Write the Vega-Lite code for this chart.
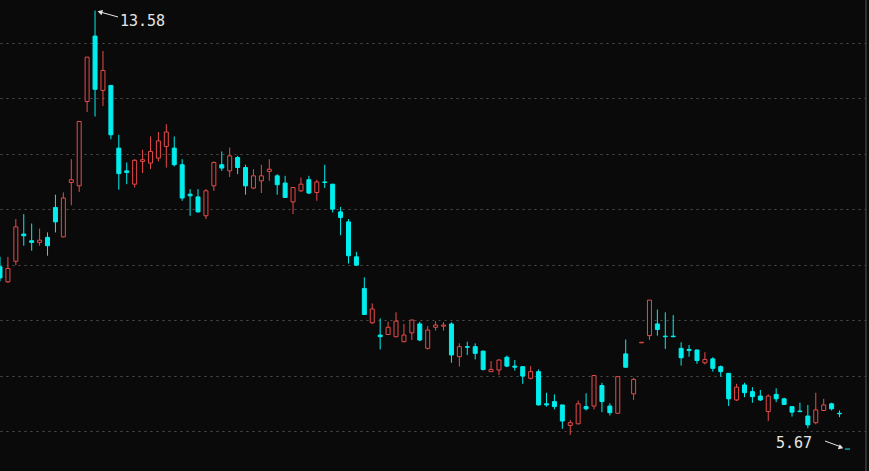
{
  "$schema": "https://vega.github.io/schema/vega-lite/v6.json",
  "width": 869,
  "height": 471,
  "padding": 0,
  "autosize": {"type": "none"},
  "background": "#0a0a0a",
  "config": {"view": {"stroke": null}, "axis": {"minExtent": 0, "maxExtent": 0, "tickSize": 0, "labelPadding": 0, "titlePadding": 0}},
  "datasets": {
    "k": [
      {"t":1,"o":8.96,"h":9.14,"l":8.70,"c":8.76},
      {"t":2,"o":8.69,"h":9.14,"l":8.67,"c":8.93},
      {"t":3,"o":9.06,"h":9.82,"l":8.99,"c":9.68},
      {"t":4,"o":9.55,"h":9.91,"l":9.34,"c":9.52},
      {"t":5,"o":9.43,"h":9.74,"l":9.25,"c":9.40},
      {"t":6,"o":9.40,"h":9.65,"l":9.34,"c":9.44},
      {"t":7,"o":9.49,"h":9.58,"l":9.16,"c":9.34},
      {"t":8,"o":10.03,"h":10.26,"l":9.58,"c":9.77},
      {"t":9,"o":9.50,"h":10.30,"l":9.49,"c":10.20},
      {"t":10,"o":10.48,"h":10.90,"l":10.07,"c":10.53},
      {"t":11,"o":10.42,"h":11.58,"l":10.31,"c":11.58},
      {"t":12,"o":11.94,"h":12.74,"l":11.75,"c":12.74},
      {"t":13,"o":13.12,"h":13.58,"l":11.67,"c":12.16},
      {"t":14,"o":12.14,"h":12.85,"l":11.86,"c":12.50},
      {"t":15,"o":12.23,"h":12.23,"l":11.26,"c":11.34},
      {"t":16,"o":11.10,"h":11.34,"l":10.35,"c":10.64},
      {"t":17,"o":10.69,"h":10.84,"l":10.45,"c":10.66},
      {"t":18,"o":10.45,"h":10.90,"l":10.39,"c":10.88},
      {"t":19,"o":10.86,"h":11.07,"l":10.65,"c":10.89},
      {"t":20,"o":10.83,"h":11.31,"l":10.72,"c":11.04},
      {"t":21,"o":10.92,"h":11.39,"l":10.86,"c":11.23},
      {"t":22,"o":11.13,"h":11.53,"l":10.75,"c":11.39},
      {"t":23,"o":11.10,"h":11.31,"l":10.77,"c":10.80},
      {"t":24,"o":10.80,"h":10.90,"l":10.15,"c":10.20},
      {"t":25,"o":10.27,"h":10.36,"l":9.88,"c":10.24},
      {"t":26,"o":10.22,"h":10.36,"l":9.94,"c":9.95},
      {"t":27,"o":9.88,"h":10.36,"l":9.82,"c":10.33},
      {"t":28,"o":10.42,"h":10.86,"l":10.33,"c":10.84},
      {"t":29,"o":10.80,"h":11.04,"l":10.69,"c":10.74},
      {"t":30,"o":10.69,"h":11.11,"l":10.58,"c":10.96},
      {"t":31,"o":10.93,"h":10.96,"l":10.63,"c":10.75},
      {"t":32,"o":10.75,"h":10.80,"l":10.26,"c":10.42},
      {"t":33,"o":10.38,"h":10.72,"l":10.36,"c":10.60},
      {"t":34,"o":10.51,"h":10.80,"l":10.29,"c":10.60},
      {"t":35,"o":10.68,"h":10.90,"l":10.51,"c":10.72},
      {"t":36,"o":10.60,"h":10.63,"l":10.26,"c":10.44},
      {"t":37,"o":10.47,"h":10.60,"l":10.20,"c":10.21},
      {"t":38,"o":10.13,"h":10.39,"l":9.91,"c":10.39},
      {"t":39,"o":10.33,"h":10.57,"l":10.31,"c":10.45},
      {"t":40,"o":10.53,"h":10.60,"l":10.27,"c":10.29},
      {"t":41,"o":10.30,"h":10.53,"l":10.15,"c":10.49},
      {"t":42,"o":10.49,"h":10.80,"l":10.38,"c":10.48},
      {"t":43,"o":10.45,"h":10.45,"l":9.94,"c":10.00},
      {"t":44,"o":9.95,"h":10.04,"l":9.53,"c":9.85},
      {"t":45,"o":9.77,"h":9.82,"l":9.02,"c":9.16},
      {"t":46,"o":9.14,"h":9.23,"l":8.98,"c":8.99},
      {"t":47,"o":8.57,"h":8.77,"l":8.10,"c":8.10},
      {"t":48,"o":7.95,"h":8.30,"l":7.93,"c":8.20},
      {"t":49,"o":7.73,"h":8.03,"l":7.47,"c":7.70},
      {"t":50,"o":7.74,"h":7.97,"l":7.73,"c":7.87},
      {"t":51,"o":7.70,"h":8.14,"l":7.69,"c":7.98},
      {"t":52,"o":7.61,"h":7.93,"l":7.60,"c":7.73},
      {"t":53,"o":7.77,"h":8.01,"l":7.64,"c":8.00},
      {"t":54,"o":7.93,"h":7.97,"l":7.62,"c":7.64},
      {"t":55,"o":7.49,"h":7.89,"l":7.47,"c":7.82},
      {"t":56,"o":7.87,"h":7.98,"l":7.81,"c":7.91},
      {"t":57,"o":7.89,"h":7.96,"l":7.81,"c":7.91},
      {"t":58,"o":7.93,"h":7.96,"l":7.23,"c":7.37},
      {"t":59,"o":7.34,"h":7.58,"l":7.16,"c":7.52},
      {"t":60,"o":7.52,"h":7.61,"l":7.37,"c":7.51},
      {"t":61,"o":7.52,"h":7.58,"l":7.29,"c":7.40},
      {"t":62,"o":7.44,"h":7.45,"l":7.09,"c":7.11},
      {"t":63,"o":7.07,"h":7.26,"l":7.07,"c":7.11},
      {"t":64,"o":7.10,"h":7.29,"l":7.01,"c":7.28},
      {"t":65,"o":7.33,"h":7.36,"l":7.15,"c":7.17},
      {"t":66,"o":7.17,"h":7.28,"l":7.09,"c":7.15},
      {"t":67,"o":7.16,"h":7.17,"l":6.85,"c":6.99},
      {"t":68,"o":6.95,"h":7.17,"l":6.93,"c":7.07},
      {"t":69,"o":7.07,"h":7.11,"l":6.46,"c":6.47},
      {"t":70,"o":6.49,"h":6.69,"l":6.44,"c":6.47},
      {"t":71,"o":6.53,"h":6.66,"l":6.39,"c":6.44},
      {"t":72,"o":6.47,"h":6.47,"l":6.04,"c":6.18},
      {"t":73,"o":6.10,"h":6.20,"l":5.93,"c":6.15},
      {"t":74,"o":6.13,"h":6.55,"l":6.12,"c":6.49},
      {"t":75,"o":6.44,"h":6.68,"l":6.37,"c":6.40},
      {"t":76,"o":6.45,"h":7.01,"l":6.39,"c":7.00},
      {"t":77,"o":6.82,"h":6.87,"l":6.34,"c":6.53},
      {"t":78,"o":6.45,"h":6.50,"l":6.28,"c":6.33},
      {"t":79,"o":6.32,"h":6.98,"l":6.31,"c":6.98},
      {"t":80,"o":7.39,"h":7.65,"l":7.14,"c":7.15},
      {"t":81,"o":6.67,"h":6.96,"l":6.56,"c":6.93},
      {"t":82,"o":7.59,"h":7.60,"l":7.59,"c":7.60},
      {"t":83,"o":7.72,"h":8.36,"l":7.64,"c":8.36},
      {"t":84,"o":7.93,"h":8.19,"l":7.72,"c":7.83},
      {"t":85,"o":7.71,"h":8.14,"l":7.48,"c":7.70},
      {"t":86,"o":7.71,"h":8.09,"l":7.69,"c":7.70},
      {"t":87,"o":7.49,"h":7.60,"l":7.18,"c":7.32},
      {"t":88,"o":7.47,"h":7.55,"l":7.34,"c":7.45},
      {"t":89,"o":7.46,"h":7.47,"l":7.21,"c":7.27},
      {"t":90,"o":7.23,"h":7.42,"l":7.20,"c":7.29},
      {"t":91,"o":7.30,"h":7.33,"l":7.07,"c":7.13},
      {"t":92,"o":7.16,"h":7.18,"l":6.98,"c":7.07},
      {"t":93,"o":7.04,"h":7.04,"l":6.45,"c":6.58},
      {"t":94,"o":6.56,"h":6.85,"l":6.54,"c":6.79},
      {"t":95,"o":6.83,"h":6.87,"l":6.61,"c":6.69},
      {"t":96,"o":6.71,"h":6.79,"l":6.51,"c":6.62},
      {"t":97,"o":6.63,"h":6.74,"l":6.54,"c":6.56},
      {"t":98,"o":6.35,"h":6.66,"l":6.18,"c":6.63},
      {"t":99,"o":6.66,"h":6.77,"l":6.52,"c":6.58},
      {"t":100,"o":6.58,"h":6.60,"l":6.47,"c":6.48},
      {"t":101,"o":6.44,"h":6.44,"l":6.26,"c":6.34},
      {"t":102,"o":6.36,"h":6.51,"l":6.34,"c":6.35},
      {"t":103,"o":6.27,"h":6.47,"l":6.05,"c":6.11},
      {"t":104,"o":6.15,"h":6.69,"l":6.12,"c":6.38},
      {"t":105,"o":6.37,"h":6.58,"l":6.36,"c":6.47},
      {"t":106,"o":6.49,"h":6.51,"l":6.37,"c":6.40},
      {"t":107,"o":6.32,"h":6.37,"l":6.25,"c":6.31}
    ],
    "labels": [
      {"t": 16.15, "p": 13.30, "s": "13.58"},
      {"t": 98.98, "p": 5.688, "s": "5.67"}
    ],
    "arrows": [
      {"t": 13.63, "p": 13.554, "t2": 15.90, "p2": 13.464},
      {"t": 105.17, "p": 5.820, "t2": 107.06, "p2": 5.720}
    ],
    "heads": [
      {"t": 13.62, "p": 13.555, "shape": "triangle-left", "a": 16},
      {"t": 107.19, "p": 5.702, "shape": "triangle-right", "a": 20}
    ]
  },
  "layer": [
    {
      "data": {"name": "k"},
      "mark": {"type": "rule", "strokeWidth": 1},
      "encoding": {
        "x": {"field": "t", "type": "quantitative", "scale": {"domain": [1, 110.72], "nice": false, "zero": false, "padding": 0}, "axis": null},
        "y": {"field": "l", "type": "quantitative", "scale": {"domain": [5.279, 13.77], "nice": false, "zero": false, "padding": 0},
              "axis": {"values": [6, 7, 8, 9, 10, 11, 12, 13], "grid": true, "gridColor": "#505050", "gridDash": [2, 4], "gridWidth": 1, "labels": false, "ticks": false, "domain": false, "title": null, "minExtent": 0, "maxExtent": 0}},
        "y2": {"field": "h"},
        "color": {"condition": {"test": "datum.c >= datum.o", "value": "#e84a4a"}, "value": "#00eeee"}
      }
    },
    {
      "data": {"name": "k"},
      "mark": {"type": "bar", "width": 4, "strokeWidth": 1},
      "encoding": {
        "x": {"field": "t", "type": "quantitative", "scale": {"domain": [1, 110.72], "nice": false, "zero": false, "padding": 0}, "axis": null},
        "y": {"field": "o", "type": "quantitative", "scale": {"domain": [5.279, 13.77], "nice": false, "zero": false, "padding": 0},
              "axis": {"values": [6, 7, 8, 9, 10, 11, 12, 13], "grid": true, "gridColor": "#505050", "gridDash": [2, 4], "gridWidth": 1, "labels": false, "ticks": false, "domain": false, "title": null, "minExtent": 0, "maxExtent": 0}},
        "y2": {"field": "c"},
        "fill": {"condition": {"test": "datum.c >= datum.o", "value": "#0a0a0a"}, "value": "#00eeee"},
        "stroke": {"condition": {"test": "datum.c >= datum.o", "value": "#e84a4a"}, "value": "#00eeee"}
      }
    },
    {
      "data": {"values": [{"t": 110.34}]},
      "mark": {"type": "rule", "color": "#3c3c3c", "strokeWidth": 1.5},
      "encoding": {
        "x": {"field": "t", "type": "quantitative", "scale": {"domain": [1, 110.72], "nice": false, "zero": false, "padding": 0}, "axis": null}
      }
    },
    {
      "data": {"name": "arrows"},
      "mark": {"type": "rule", "color": "#e6e6e6", "strokeWidth": 1},
      "encoding": {
        "x": {"field": "t", "type": "quantitative", "scale": {"domain": [1, 110.72], "nice": false, "zero": false, "padding": 0}, "axis": null},
        "y": {"field": "p", "type": "quantitative", "scale": {"domain": [5.279, 13.77], "nice": false, "zero": false, "padding": 0},
              "axis": {"values": [6, 7, 8, 9, 10, 11, 12, 13], "grid": true, "gridColor": "#505050", "gridDash": [2, 4], "gridWidth": 1, "labels": false, "ticks": false, "domain": false, "title": null, "minExtent": 0, "maxExtent": 0}},
        "x2": {"field": "t2"},
        "y2": {"field": "p2"}
      }
    },
    {
      "data": {"values": [{"t": 107.69, "p": 5.675, "t2": 108.32}]},
      "mark": {"type": "rule", "color": "#00eeee", "strokeWidth": 1},
      "encoding": {
        "x": {"field": "t", "type": "quantitative", "scale": {"domain": [1, 110.72], "nice": false, "zero": false, "padding": 0}, "axis": null},
        "y": {"field": "p", "type": "quantitative", "scale": {"domain": [5.279, 13.77], "nice": false, "zero": false, "padding": 0},
              "axis": {"values": [6, 7, 8, 9, 10, 11, 12, 13], "grid": true, "gridColor": "#505050", "gridDash": [2, 4], "gridWidth": 1, "labels": false, "ticks": false, "domain": false, "title": null, "minExtent": 0, "maxExtent": 0}},
        "x2": {"field": "t2"}
      }
    },
    {
      "data": {"name": "heads"},
      "mark": {"type": "point", "filled": true, "color": "#e6e6e6", "opacity": 1, "size": 30},
      "encoding": {
        "x": {"field": "t", "type": "quantitative", "scale": {"domain": [1, 110.72], "nice": false, "zero": false, "padding": 0}, "axis": null},
        "y": {"field": "p", "type": "quantitative", "scale": {"domain": [5.279, 13.77], "nice": false, "zero": false, "padding": 0},
              "axis": {"values": [6, 7, 8, 9, 10, 11, 12, 13], "grid": true, "gridColor": "#505050", "gridDash": [2, 4], "gridWidth": 1, "labels": false, "ticks": false, "domain": false, "title": null, "minExtent": 0, "maxExtent": 0}},
        "shape": {"field": "shape", "type": "nominal", "scale": null},
        "angle": {"field": "a", "type": "quantitative", "scale": null}
      }
    },
    {
      "data": {"name": "labels"},
      "mark": {"type": "text", "align": "left", "baseline": "alphabetic", "font": "DejaVu Sans Mono", "fontSize": 15, "color": "#e6e6e6"},
      "encoding": {
        "x": {"field": "t", "type": "quantitative", "scale": {"domain": [1, 110.72], "nice": false, "zero": false, "padding": 0}, "axis": null},
        "y": {"field": "p", "type": "quantitative", "scale": {"domain": [5.279, 13.77], "nice": false, "zero": false, "padding": 0},
              "axis": {"values": [6, 7, 8, 9, 10, 11, 12, 13], "grid": true, "gridColor": "#505050", "gridDash": [2, 4], "gridWidth": 1, "labels": false, "ticks": false, "domain": false, "title": null, "minExtent": 0, "maxExtent": 0}},
        "text": {"field": "s", "type": "nominal"}
      }
    }
  ]
}
